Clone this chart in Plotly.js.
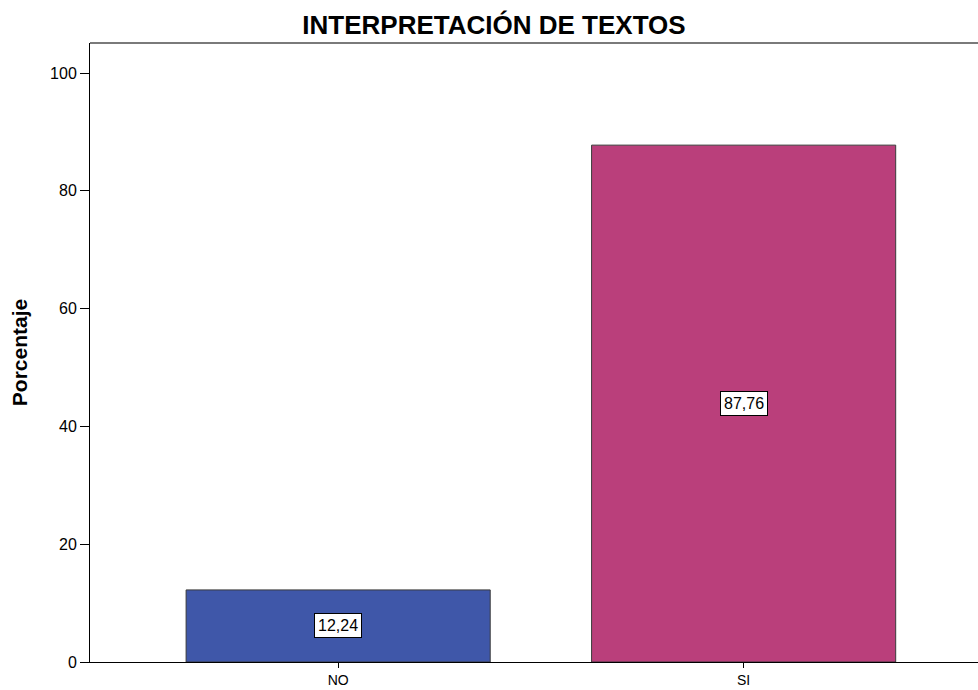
<!DOCTYPE html>
<html>
<head>
<meta charset="utf-8">
<script src="https://cdn.plot.ly/plotly-3.0.1.min.js"></script>
<style>html,body{margin:0;padding:0;background:#fff;}#chart{width:978px;height:690px;}</style>
</head>
<body>
<div id="chart"></div>
<script>
const categories = ["NO", "SI"];
const percentages = [12.24, 87.76];
const barColors = ["#3f57a9", "#ba3f7b"];
const yTicks = [0, 20, 40, 60, 80, 100];

const fmt = v => v.toFixed(2).replace('.', ',');

const trace = {
  type: 'bar',
  x: categories,
  y: percentages,
  width: 0.75,
  marker: {color: barColors, line: {color: '#3a3a3a', width: 1}},
  hoverinfo: 'none'
};

const annotations = categories.map((c, i) => ({
  x: c, y: percentages[i] / 2, xref: 'x', yref: 'y',
  text: fmt(percentages[i]), showarrow: false,
  bgcolor: '#ffffff', bordercolor: '#000000', borderwidth: 1, borderpad: 3,
  font: {family: 'Liberation Sans, Arial, sans-serif', size: 16, color: '#000'}
}));

const layout = {
  width: 978, height: 690,
  margin: {l: 90, r: 0, t: 43, b: 28},
  paper_bgcolor: '#ffffff', plot_bgcolor: '#ffffff',
  font: {family: 'Liberation Sans, Arial, sans-serif', size: 16, color: '#000'},
  title: {text: '<b>INTERPRETACIÓN DE TEXTOS</b>', xref: 'container', x: 494/978, xanchor: 'center',
          yref: 'container', y: 1 - 25/690, yanchor: 'middle',
          font: {size: 26, color: '#000', family: 'Liberation Sans, Arial, sans-serif'}},
  xaxis: {
    type: 'category', range: [-0.612, 1.578],
    showline: true, linecolor: '#000', linewidth: 1,
    ticks: 'outside', ticklen: 5, tickcolor: '#000',
    showgrid: false, zeroline: false, fixedrange: true,
    tickfont: {size: 14}
  },
  yaxis: {
    range: [0, 105.1], tickvals: yTicks, ticktext: yTicks.map(String),
    showline: true, linecolor: '#000', linewidth: 1,
    ticks: 'outside', ticklen: 9, tickcolor: '#000',
    showgrid: false, zeroline: false, fixedrange: true,
    tickfont: {size: 16},
    title: {text: '<b>Porcentaje</b>', standoff: 16, font: {size: 21}}
  },
  shapes: [{type: 'line', xref: 'paper', yref: 'paper', x0: 0, x1: 1, y0: 1, y1: 1,
            line: {color: '#7a7a7a', width: 2}}],
  annotations: annotations,
  showlegend: false,
  bargap: 0
};

Plotly.newPlot('chart', [trace], layout, {displayModeBar: false, staticPlot: true});
</script>
</body>
</html>
